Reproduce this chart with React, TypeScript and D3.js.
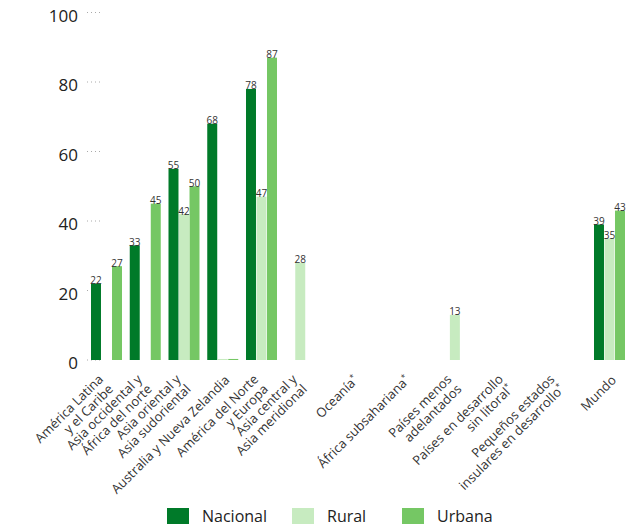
import React from "react";
import * as d3 from "d3";

const categories: string[][] = [
  ["América Latina", "y el Caribe"],
  ["Asia occidental y", "África del norte"],
  ["Asia oriental y", "Asia sudoriental"],
  ["Australia y Nueva Zelandia"],
  ["América del Norte", "y Europa"],
  ["Asia central y", "Asia meridional"],
  ["Oceanía*"],
  ["África subsahariana*"],
  ["Países menos", "adelantados"],
  ["Países en desarrollo", "sin litoral*"],
  ["Pequeños estados", "insulares en desarrollo*"],
  ["Mundo"],
];

const nacional: (number | null)[] = [22, 33, 55, 68, 78, null, null, null, null, null, null, 39];
const rural: (number | null)[] = [null, null, 42, 0.3, 47, 28, null, null, 13, null, null, 35];
const urbana: (number | null)[] = [27, 45, 50, 0.3, 87, null, null, null, null, null, null, 43];

const seriesNames = ["Nacional", "Rural", "Urbana"];
const seriesColors = ["#007a29", "#c7ebc0", "#75c764"];
const yTicks = [0, 20, 40, 60, 80, 100];

const FONT = "'Open Sans', sans-serif";

export default function App() {
  const W = 631;
  const H = 529;
  const y = d3.scaleLinear().domain([0, 100]).range([360, 12.5]);
  // group centers: regions spaced tighter than the other groupings
  const xc = d3.scaleLinear().domain([0, 5, 11]).range([106.5, 300.25, 609.5]);
  const sub = d3.scaleBand<string>().domain(seriesNames).range([-15.5, 15.5]).paddingInner(0.05);
  const allSeries = [nacional, rural, urbana];

  const renderLabel = (txt: string) => {
    if (txt.endsWith("*")) {
      return (
        <>
          {txt.slice(0, -1)}
          <tspan fontSize={8} dy={-5}>*</tspan>
        </>
      );
    }
    return txt;
  };

  return (
    <svg width={W} height={H} style={{ position: "absolute", left: 0, top: 0 }}>
      <rect width={W} height={H} fill="#fff" />
      {yTicks.map((t) => (
        <g key={t}>
          <line x1={87} x2={101} y1={y(t)} y2={y(t)} stroke="#aaa" strokeWidth={1} strokeDasharray="1,3" />
          <text x={78} y={y(t) + 9} textAnchor="end" fontFamily={FONT} fontSize={17} fill="#222">
            {t}
          </text>
        </g>
      ))}
      {allSeries.map((vals, si) => (
        <g key={si}>
          {vals.map((v, i) => {
            if (v == null) return null;
            const x0 = xc(i) + (sub(seriesNames[si]) as number);
            const bw = sub.bandwidth();
            return (
              <g key={i}>
                <rect x={x0} y={y(v)} width={bw} height={y(0) - y(v)} fill={seriesColors[si]} />
                {v >= 1 && (
                  <text x={x0 + bw / 2} y={y(v) + 0.5} textAnchor="middle" fontFamily={FONT} fontSize={10} fill="#333">
                    {Math.round(v)}
                  </text>
                )}
              </g>
            );
          })}
        </g>
      ))}
      {categories.map((lines, i) => {
        const c = xc(i);
        const n = lines.length;
        const lh = 14;
        const ax = n > 1 ? c + 2.5 : c + 7.5;
        const ay = n > 1 ? 385 : 381;
        return (
          <text
            key={i}
            transform={`translate(${ax},${ay}) rotate(-45)`}
            textAnchor="end"
            fontFamily={FONT}
            fontSize={13}
            fill="#333"
          >
            {lines.map((ln, li) => (
              <tspan key={li} x={0} y={(li - (n - 1) / 2) * lh}>
                {renderLabel(ln)}
              </tspan>
            ))}
          </text>
        );
      })}
      {seriesNames.map((s, si) => {
        const lx = [167, 292, 402][si];
        return (
          <g key={s}>
            <rect x={lx} y={508} width={22} height={16} fill={seriesColors[si]} />
            <text x={lx + 35} y={522} fontFamily={FONT} fontSize={16} fill="#222">
              {s}
            </text>
          </g>
        );
      })}
    </svg>
  );
}
